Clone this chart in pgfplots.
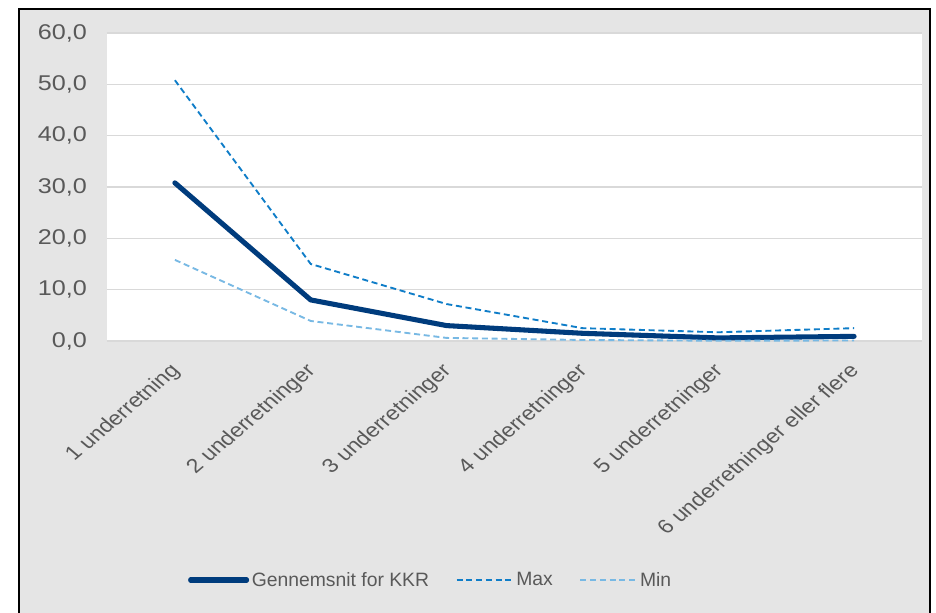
\documentclass[border=0pt]{standalone}
\usepackage{fontspec}
\setmainfont{Liberation Sans}
\usepackage{pgfplots}
\pgfplotsset{compat=1.18}
\definecolor{avgc}{RGB}{0,60,125}
\definecolor{maxc}{RGB}{15,125,200}
\definecolor{minc}{RGB}{120,185,228}
\definecolor{bggray}{RGB}{229,229,229}
\definecolor{gridc}{RGB}{217,217,217}
\definecolor{txt}{RGB}{89,89,89}
\begin{document}
\begin{tikzpicture}[x=0.75pt,y=0.75pt]
\useasboundingbox (0,0) rectangle (936,613);
\fill[white] (0,0) rectangle (936,613);
\draw[line width=2.2pt, fill=bggray] (19,-20) rectangle (930,604);
\begin{axis}[
  at={(80.25pt,204pt)}, anchor=south west,
  scale only axis, width=611.25pt, height=231pt,
  axis background/.style={fill=white},
  axis line style={draw=none},
  major tick length=0pt,
  xmin=0.5, xmax=6.5, ymin=0, ymax=60,
  xtick={1,...,6},
  xticklabels={1 underretning, 2 underretninger, 3 underretninger, 4 underretninger, 5 underretninger, 6 underretninger eller flere},
  ytick={0,10,...,60},
  ymajorgrids, grid style={gridc, line width=1.1pt},
  y tick label style={/pgf/number format/fixed, /pgf/number format/fixed zerofill,
    /pgf/number format/precision=1, /pgf/number format/use comma,
    /pgf/number format/assume math mode=true, xshift=-11pt, xscale=1.18,
    font=\fontsize{16}{19}\selectfont},
  every tick label/.append style={text=txt},
  x tick label style={yshift=-18pt, xshift=4pt, xscale=1.18, rotate=45, anchor=east,
    font=\fontsize{14.8}{17}\selectfont},
  clip=false,
  legend columns=3,
  legend style={at={(0.3975,-0.776)}, anchor=center, draw=none, fill=none,
    font=\fontsize{14.5}{17}\selectfont, text=txt,
    /tikz/every even column/.append style={column sep=18pt}},
  legend image code/.code={\draw[#1] (0pt,0pt) -- (42pt,0pt);},
]
\addplot[avgc, line width=3.8pt, line cap=round, line join=round] coordinates {
  (1,30.8) (2,8.0) (3,3.0) (4,1.5) (5,0.6) (6,0.9)
};
\addlegendentry{Gennemsnit for KKR}
\addplot[maxc, line width=1.4pt, dash pattern=on 4.5pt off 2.8pt] coordinates {
  (1,50.8) (2,15.0) (3,7.2) (4,2.5) (5,1.7) (6,2.5)
};
\addlegendentry{Max}
\addplot[minc, line width=1.4pt, dash pattern=on 4.5pt off 2.8pt] coordinates {
  (1,15.8) (2,3.9) (3,0.6) (4,0.2) (5,0.05) (6,0.1)
};
\addlegendentry{Min}
\end{axis}
\end{tikzpicture}
\end{document}
